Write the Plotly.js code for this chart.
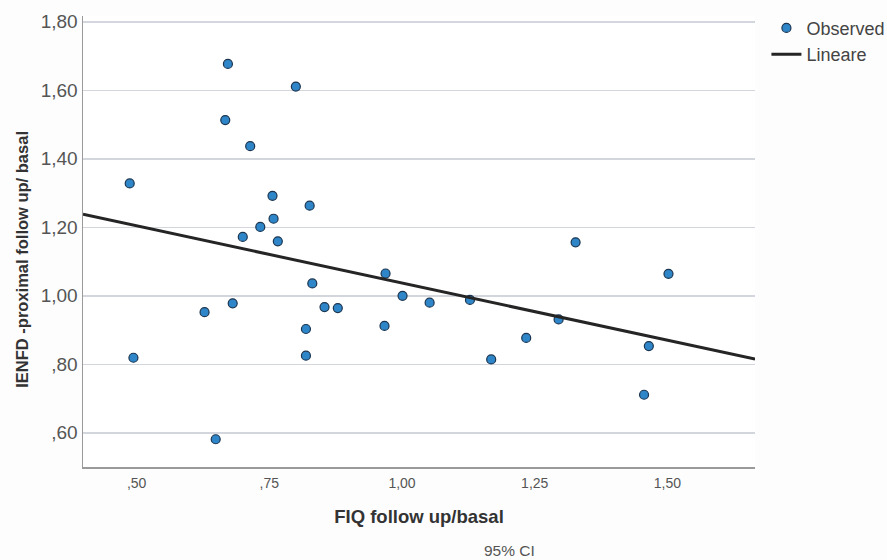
<!DOCTYPE html>
<html>
<head>
<meta charset="utf-8">
<script src="https://cdn.plot.ly/plotly-3.0.1.min.js"></script>
<style>html,body{margin:0;padding:0;background:#fdfdfd;}#chart{width:887px;height:560px;}</style>
</head>
<body>
<div id="chart"></div>
<script>
// Observed points (FIQ follow up/basal vs IENFD-proximal follow up/basal)
const fiqRatio = [0.487,0.494,0.628,0.649,0.672,0.667,0.681,0.700,0.714,0.733,0.756,0.758,0.766,0.800,0.826,0.831,0.819,0.819,0.854,0.879,0.969,0.967,1.001,1.052,1.128,1.168,1.234,1.295,1.327,1.456,1.465,1.502];
const ienfdRatio = [1.328,0.819,0.952,0.581,1.677,1.513,0.978,1.172,1.437,1.201,1.292,1.225,1.159,1.611,1.263,1.036,0.903,0.825,0.967,0.964,1.065,0.912,1.000,0.980,0.988,0.814,0.877,0.931,1.156,0.711,0.853,1.064];
// Linear fit line as drawn (endpoints read at the axis edges)
const fitX = [0.399, 1.665];
const fitY = [1.238, 0.815];
// Tick labels
const xTickVals = [0.50, 0.75, 1.00, 1.25, 1.50];
const xTickText = [",50", ",75", "1,00", "1,25", "1,50"];
const yTickVals = [0.60, 0.80, 1.00, 1.20, 1.40, 1.60, 1.80];
const yTickText = [",60", ",80", "1,00", "1,20", "1,40", "1,60", "1,80"];

const traces = [
  {
    x: fiqRatio, y: ienfdRatio, type: 'scatter', mode: 'markers', name: 'Observed',
    marker: {size: 9, color: '#2e86c9', line: {color: '#1b3550', width: 1.2}},
    cliponaxis: false
  },
  {
    x: fitX, y: fitY, type: 'scatter', mode: 'lines', name: 'Lineare',
    line: {color: '#252525', width: 3}
  }
];

const layout = {
  width: 887, height: 560,
  margin: {l: 83, r: 132, t: 16, b: 93, autoexpand: false},
  paper_bgcolor: '#fdfdfd', plot_bgcolor: '#ffffff',
  font: {family: 'Liberation Sans, Arial, sans-serif', color: '#444'},
  showlegend: true,
  legend: {
    x: 1.017, xanchor: 'left', y: 1.014, yanchor: 'top',
    bgcolor: 'rgba(0,0,0,0)', font: {size: 18, color: '#444'},
    itemwidth: 30, tracegroupgap: 0
  },
  xaxis: {
    range: [0.399, 1.665], tickvals: xTickVals, ticktext: xTickText,
    showgrid: false, zeroline: false, showline: true, linecolor: '#9a9a9a', linewidth: 1.5,
    ticks: '', tickfont: {size: 14, color: '#555'}, ticklabelstandoff: 3,
    title: {text: '<b>FIQ follow up/basal</b>', font: {size: 18.5, color: '#333'}, standoff: 20}
  },
  yaxis: {
    range: [0.50, 1.817], tickvals: yTickVals, ticktext: yTickText,
    showgrid: true, gridcolor: '#d3d6dd', gridwidth: 1.5,
    zeroline: false, showline: true, linecolor: '#9a9a9a', linewidth: 1.5,
    ticks: '', tickfont: {size: 19, color: '#555'}
  },
  annotations: [
    {text: '<b>IENFD -proximal follow up/ basal</b>', xref: 'paper', yref: 'paper',
     x: -0.092, y: 0.46, xanchor: 'center', yanchor: 'middle', textangle: -90,
     showarrow: false, font: {size: 16.5, color: '#333'}},
    {text: '95% CI', xref: 'paper', yref: 'paper', x: 0.634, y: -0.186, xanchor: 'center', yanchor: 'middle',
     showarrow: false, font: {size: 15.5, color: '#555'}}
  ]
};

Plotly.newPlot('chart', traces, layout, {displayModeBar: false, staticPlot: true});
</script>
</body>
</html>
